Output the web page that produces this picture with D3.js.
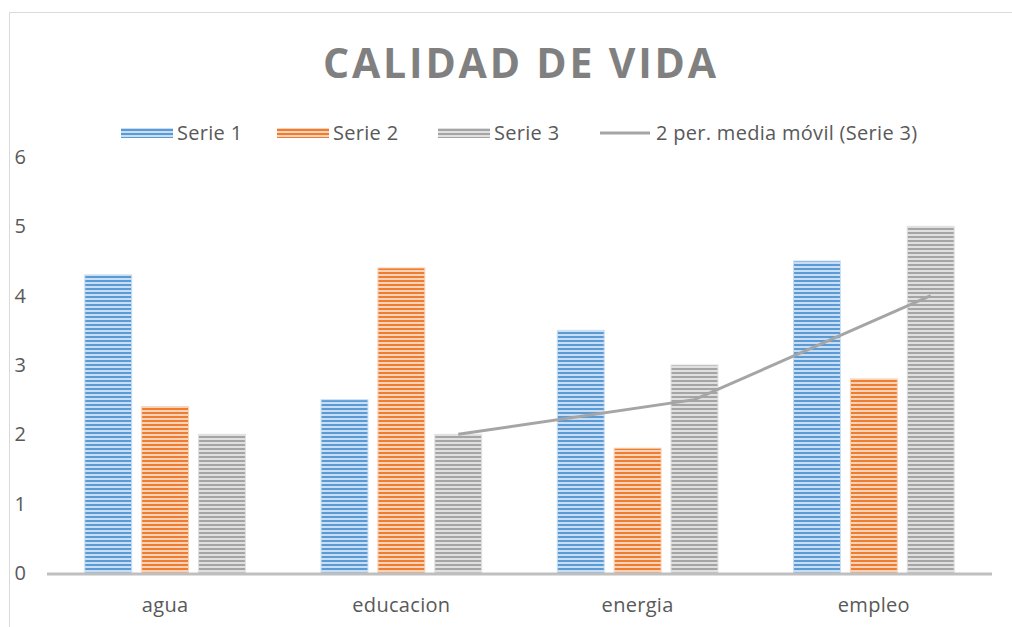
<!DOCTYPE html>
<html>
<head>
<meta charset="utf-8">
<script src="https://cdn.jsdelivr.net/npm/d3@7"></script>
<style>
  body { margin: 0; background: #fff; }
  svg { display: block; font-family: "Open Sans", "Noto Sans", sans-serif; }
</style>
</head>
<body>
<div id="chart"></div>
<script>
// chart data
const categories = ['agua', 'educacion', 'energia', 'empleo'];
const seriesNames = ['Serie 1', 'Serie 2', 'Serie 3'];
const serie1 = [4.3, 2.5, 3.5, 4.5];
const serie2 = [2.4, 4.4, 1.8, 2.8];
const serie3 = [2.0, 2.0, 3.0, 5.0];
// 2-period moving average of Serie 3 (first point has none)
const movingAvg = [null, 2.0, 2.5, 4.0];
const yTicks = [0, 1, 2, 3, 4, 5, 6];

const colors = [
  { dark: '#5B9BD5', light: '#C9DEF2' },
  { dark: '#ED7D31', light: '#F9D3B9' },
  { dark: '#A5A5A5', light: '#E0E0E0' }
];

const width = 1012, height = 627;
const plotLeft = 47, plotRight = 992;
const labelSize = 20;
const labelSpacing = 0.3;

const svg = d3.select('#chart').append('svg')
  .attr('width', width)
  .attr('height', height);

// striped fills
const defs = svg.append('defs');
colors.forEach((c, i) => {
  const p = defs.append('pattern')
    .attr('id', 'stripe' + i)
    .attr('patternUnits', 'userSpaceOnUse')
    .attr('width', 8)
    .attr('height', 4);
  p.append('rect').attr('width', 8).attr('height', 4).attr('fill', c.light);
  p.append('rect').attr('width', 8).attr('height', 2).attr('fill', c.dark);
});

// chart frame (cropped)
svg.append('path')
  .attr('d', `M9.5,${height + 2}V12.5H${width + 2}`)
  .attr('fill', 'none')
  .attr('stroke', '#D9D9D9')
  .attr('stroke-width', 1);

const x0 = d3.scaleBand()
  .domain(categories)
  .range([plotLeft, plotRight])
  .paddingInner(0.32)
  .paddingOuter(0.16);

const x1 = d3.scaleBand()
  .domain(d3.range(3))
  .range([0, x0.bandwidth()])
  .paddingInner(0.175)
  .paddingOuter(0);

const y = d3.scaleLinear()
  .domain([0, 6])
  .range([573, 157]);

// bars
const allSeries = [serie1, serie2, serie3];
const groups = svg.append('g').selectAll('g')
  .data(categories)
  .join('g')
  .attr('transform', d => `translate(${x0(d)},0)`);

groups.selectAll('rect')
  .data((d, ci) => allSeries.map((s, si) => ({ si, v: s[ci] })))
  .join('rect')
  .attr('x', d => x1(d.si))
  .attr('width', x1.bandwidth())
  .attr('y', d => y(d.v))
  .attr('height', d => y(0) - y(d.v))
  .attr('fill', d => `url(#stripe${d.si})`)
  .attr('stroke', d => colors[d.si].light)
  .attr('stroke-width', 1);

// x axis line
svg.append('line')
  .attr('x1', plotLeft).attr('x2', plotRight)
  .attr('y1', y(0) + 1).attr('y2', y(0) + 1)
  .attr('stroke', '#BFBFBF')
  .attr('stroke-width', 3);

// category labels
svg.append('g').selectAll('text')
  .data(categories)
  .join('text')
  .attr('x', d => x0(d) + x0.bandwidth() / 2)
  .attr('y', 612)
  .attr('text-anchor', 'middle')
  .attr('font-size', labelSize)
  .attr('letter-spacing', labelSpacing)
  .attr('fill', '#595959')
  .text(d => d);

// y labels
svg.append('g').selectAll('text')
  .data(yTicks)
  .join('text')
  .attr('x', 26)
  .attr('y', d => y(d) + 7)
  .attr('text-anchor', 'end')
  .attr('font-size', labelSize)
  .attr('fill', '#595959')
  .text(d => d);

// moving average trendline at Serie 3 bar centres
const maPoints = categories
  .map((c, i) => ({ c, v: movingAvg[i] }))
  .filter(d => d.v !== null);

svg.append('path')
  .datum(maPoints)
  .attr('fill', 'none')
  .attr('stroke', '#A5A5A5')
  .attr('stroke-width', 3)
  .attr('d', d3.line()
    .x(d => x0(d.c) + x1(2) + x1.bandwidth() / 2)
    .y(d => y(d.v)));

// title
svg.append('text')
  .attr('x', (plotLeft + plotRight) / 2)
  .attr('y', 78)
  .attr('text-anchor', 'middle')
  .attr('font-size', 41)
  .attr('font-weight', 'bold')
  .attr('fill', '#808080')
  .attr('textLength', 393)
  .attr('lengthAdjust', 'spacing')
  .text('CALIDAD DE VIDA');

// legend
const legendY = 133;
const legendItems = [
  { x: 121, label: seriesNames[0], type: 'bar', i: 0 },
  { x: 277, label: seriesNames[1], type: 'bar', i: 1 },
  { x: 438, label: seriesNames[2], type: 'bar', i: 2 },
  { x: 600, label: '2 per. media móvil (Serie 3)', type: 'line' }
];
const legend = svg.append('g').selectAll('g')
  .data(legendItems)
  .join('g')
  .attr('transform', d => `translate(${d.x},${legendY})`);

legend.filter(d => d.type === 'bar').append('rect')
  .attr('x', 0).attr('y', -5)
  .attr('width', 52).attr('height', 10)
  .attr('fill', d => `url(#stripe${d.i})`);

legend.filter(d => d.type === 'line').append('line')
  .attr('x1', 0).attr('x2', 50)
  .attr('y1', 0).attr('y2', 0)
  .attr('stroke', '#A5A5A5')
  .attr('stroke-width', 3);

legend.append('text')
  .attr('x', 56)
  .attr('y', 7)
  .attr('font-size', labelSize)
  .attr('letter-spacing', labelSpacing)
  .attr('fill', '#595959')
  .text(d => d.label);
</script>
</body>
</html>
